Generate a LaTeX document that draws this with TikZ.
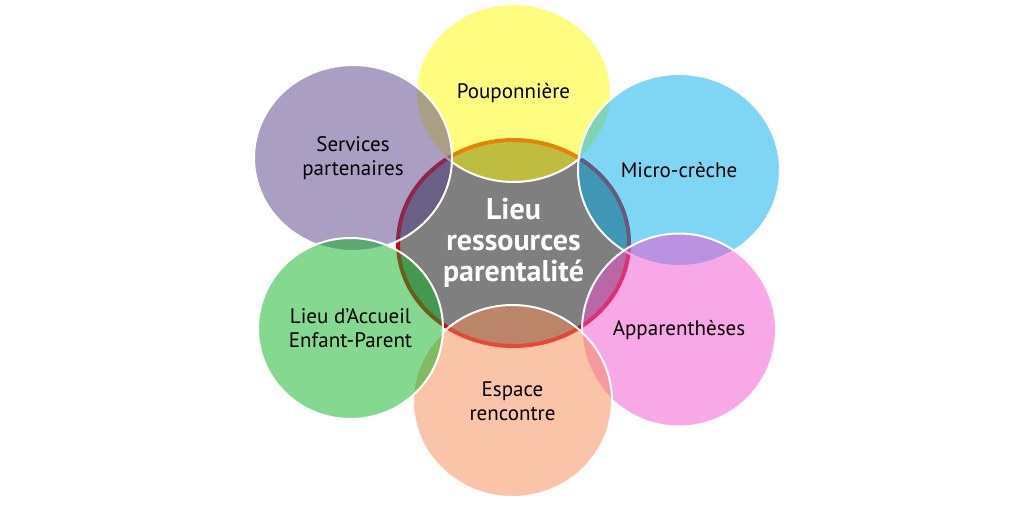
\documentclass[tikz,border=0pt]{standalone}
\usepackage{fontspec}
\setmainfont{PT Sans}
\usetikzlibrary{shapes.geometric}

\definecolor{centregris}{HTML}{7F7F7F}
\definecolor{anneau}{HTML}{CC0A14}
\definecolor{jaune}{HTML}{FFFC00}
\definecolor{bleu}{HTML}{00ADEB}
\definecolor{rose}{HTML}{F353CF}
\definecolor{peche}{HTML}{F78B55}
\definecolor{vert}{HTML}{0DB321}
\definecolor{violet}{HTML}{574189}

\begin{document}
\begin{tikzpicture}[x=1pt, y=-1pt,
    petale/.style={ellipse, draw=white, line width=2pt, fill opacity=0.5,
      text opacity=1, align=center, inner sep=0pt,
      font=\fontsize{21}{24}\selectfont}]
  \fill[white] (0,0) rectangle (1024,506);
  \node[ellipse, fill=centregris, draw=anneau, line width=4pt,
    minimum width=231pt, minimum height=206pt, align=center, text=white,
    font=\fontsize{30}{31}\selectfont\bfseries]
    (lieu) at (513.5,243) {Lieu\\ressources\\parentalité};
  \node[petale, fill=jaune, minimum width=195pt, minimum height=178pt]
    (pouponniere) at (513.5,93) {Pouponnière};
  \node[petale, fill=bleu, minimum width=202pt, minimum height=192pt]
    (microcreche) at (679,170) {Micro-crèche};
  \node[petale, fill=rose, minimum width=194pt, minimum height=193pt]
    (apparentheses) at (679,330) {Apparenthèses};
  \node[petale, fill=peche, minimum width=199pt, minimum height=192pt]
    (espace) at (512.5,401) {Espace\\rencontre};
  \node[petale, fill=violet, minimum width=198pt, minimum height=186pt]
    (services) at (353,158) {Services\\partenaires};
  \node[petale, fill=vert, minimum width=185pt, minimum height=181pt]
    (laep) at (350.5,328.5) {Lieu d’Accueil\\Enfant-Parent};
\end{tikzpicture}
\end{document}
